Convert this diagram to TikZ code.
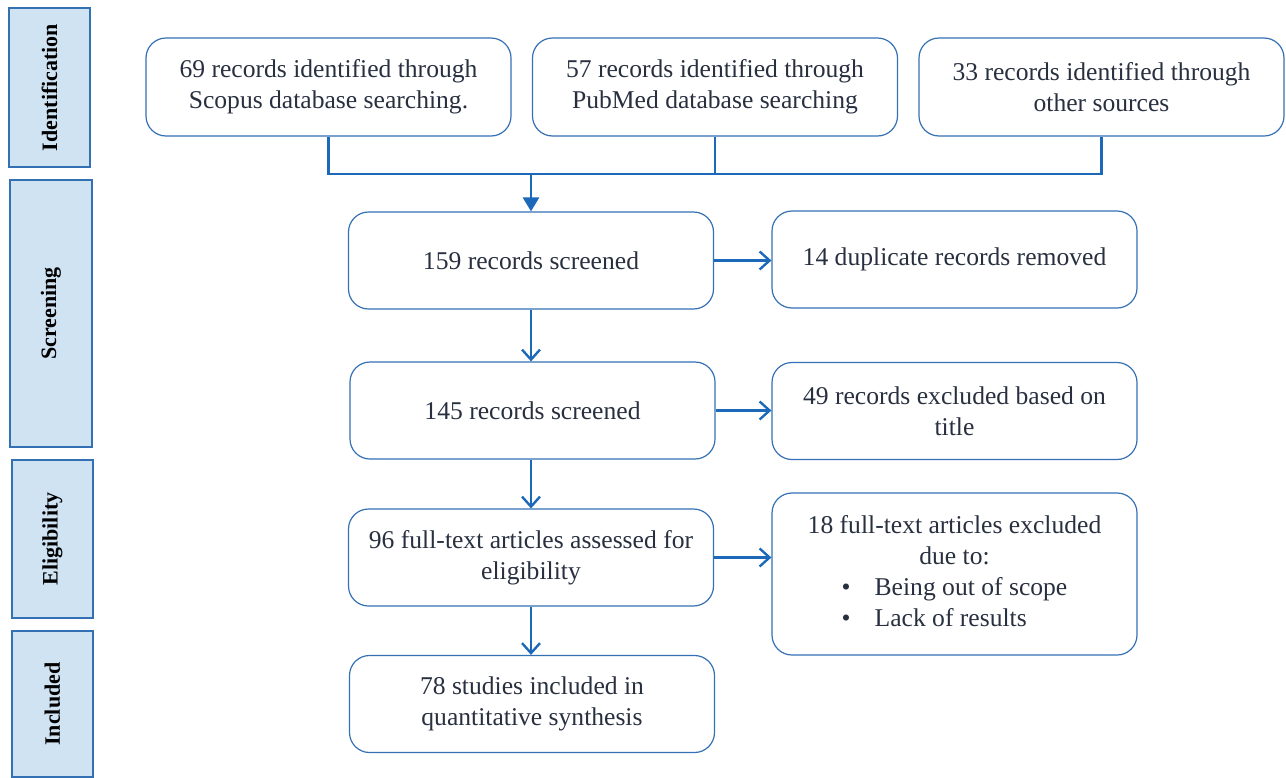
\documentclass[tikz,border=0pt]{standalone}
\usepackage{fontspec}
\setmainfont{Liberation Serif}
\usetikzlibrary{positioning,arrows.meta}
\definecolor{boxline}{RGB}{52,112,180}
\definecolor{arrowblue}{RGB}{28,105,185}
\definecolor{stagefill}{RGB}{208,227,243}
\definecolor{textdark}{RGB}{40,48,64}
\tikzset{
  stage/.style={draw=boxline, line width=0.7pt, fill=stagefill, rotate=90,
    font=\fontsize{11}{13}\selectfont\bfseries, inner sep=0pt},
  recbox/.style={draw=boxline, line width=0.6pt, rounded corners=10pt,
    minimum width=182.5pt, minimum height=48.5pt, align=center,
    text=textdark, font=\fontsize{12.8}{15.5}\selectfont},
  link/.style={draw=arrowblue, line width=1.4pt},
  flow/.style={link, -{Straight Barb[length=5pt,width=9pt,line width=1.2pt]}},
}
\begin{document}
\begin{tikzpicture}[x=0.5pt,y=-0.5pt]
    \useasboundingbox (0,0) rectangle (1286,777);
    % stage labels on the left
    \node[stage, minimum width=79.5pt, minimum height=40.5pt] (idL) at (49.5,87.5) {Identification};
    \node[stage, minimum width=133.5pt, minimum height=41pt] (scrL) at (51,313.5) {Screening};
    \node[stage, minimum width=79pt, minimum height=40.5pt] (eliL) at (52.5,539) {Eligibility};
    \node[stage, minimum width=73pt, minimum height=40.5pt] (incL) at (52.5,704) {Included};
    % identification boxes
    \node[recbox, minimum height=49pt] (scopus) at (328.5,87) {69 records identified through\\Scopus database searching.};
    \node[recbox, minimum height=49pt] (pubmed) at (715,87) {57 records identified through\\PubMed database searching};
    \node[recbox, minimum height=49pt] (other) at (1101.5,87) {33 records identified through\\other sources};
    % main column
    \node[recbox] (scr1) at (531,260.5) {159 records screened};
    \node[recbox] (scr2) at (532.5,410.5) {145 records screened};
    \node[recbox] (full) at (531,557.5) {96 full-text articles assessed for\\eligibility};
    \node[recbox] (incl) at (532,704) {78 studies included in\\quantitative synthesis};
    % exclusions
    \node[recbox] (dup) at (954.5,259.5) {14 duplicate records removed};
    \node[recbox] (title) at (954.5,411) {49 records excluded based on\\title};
    \node[recbox, minimum height=81pt] (excl) at (954.5,574) {%
      \begin{tabular}{@{\hspace{17pt}}c@{\hspace{12pt}}l@{}}
        \multicolumn{2}{@{}c@{}}{18 full-text articles excluded}\\
        \multicolumn{2}{@{}c@{}}{due to:}\\
        \textbullet & Being out of scope\\
        \textbullet & Lack of results
      \end{tabular}};
    % merge the three sources
    \coordinate (join) at (531,174);
    \draw[link] (scopus.south) -- (scopus.south |- join) -- (other.south |- join) -- (other.south);
    \draw[link] (pubmed.south) -- (pubmed.south |- join);
    \draw[link, -{Triangle[length=7pt,width=8pt]}] (join) -- (scr1.north);
    % down the main column
    \draw[flow] (scr1.south) -- (scr2.north -| scr1.south);
    \draw[flow] (scr2.south -| scr1.south) -- (full.north);
    \draw[flow] (full.south) -- (incl.north -| full.south);
    % to the exclusions
    \draw[flow] (scr1.east) -- (dup.west |- scr1.east);
    \draw[flow] (scr2.east) -- (title.west |- scr2.east);
    \draw[flow] (full.east) -- (excl.west |- full.east);
\end{tikzpicture}
\end{document}
